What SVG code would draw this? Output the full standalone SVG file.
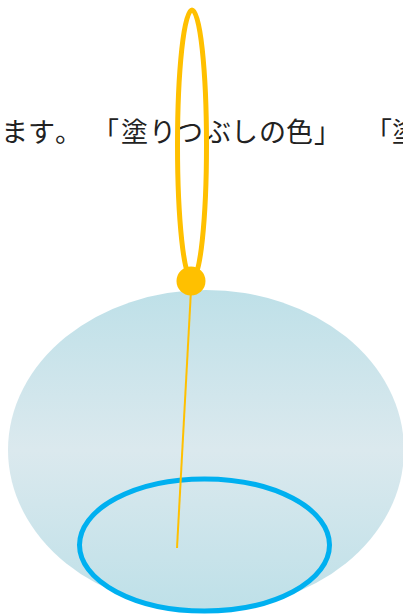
<svg xmlns="http://www.w3.org/2000/svg" width="403" height="615" viewBox="0 0 403 615">
<style>
.txt{font-family:"Noto Sans CJK JP","Noto Sans CJK SC",sans-serif;font-size:27px;fill:#222}
.yel{stroke:#ffc000;fill:none}
</style>
<defs>
<linearGradient id="g" x1="0" y1="0" x2="0" y2="1">
<stop offset="0" stop-color="#bee0e8"/>
<stop offset="0.5" stop-color="#dbe9ee"/>
<stop offset="1" stop-color="#bee0e8"/>
</linearGradient>
</defs>
<rect width="403" height="615" fill="#fff"/>
<text class="txt" x="1 28 55 92 121 149 176 204 231 259 286 314 365 392" y="142">ます。「塗りつぶしの色」「塗</text>
<g id="bowl"><ellipse cx="206" cy="450" rx="198" ry="160" fill="url(#g)"/></g>
<g id="loop"><ellipse class="yel" cx="192" cy="145" rx="14.5" ry="135" stroke-width="5"/></g>
<g id="base"><ellipse cx="204.5" cy="545" rx="125" ry="66" fill="none" stroke="#00b0f0" stroke-width="5"/></g>
<g id="connectors"><line class="yel" x1="191" y1="290" x2="177" y2="548" stroke-width="2"/></g>
<g id="knob"><circle cx="191" cy="281" r="14.5" fill="#ffc000"/></g>
</svg>
